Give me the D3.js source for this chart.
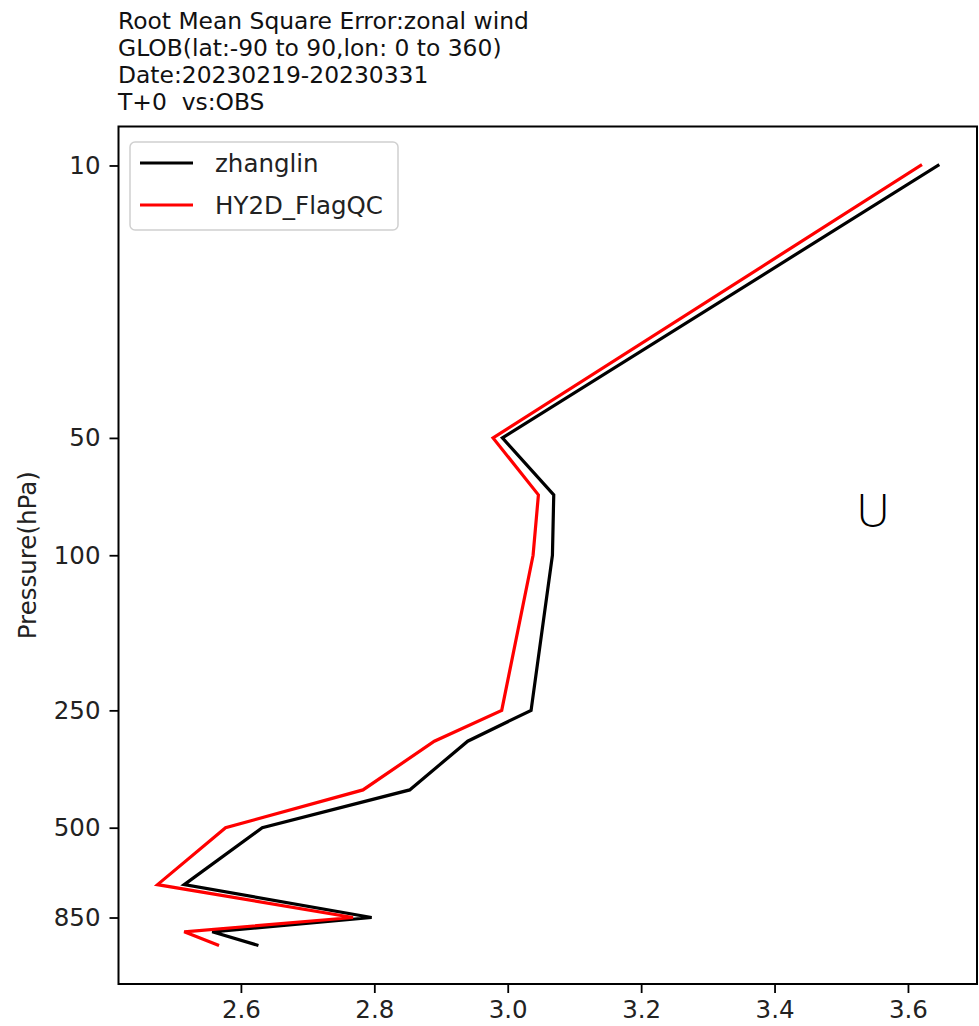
<!DOCTYPE html>
<html>
<head>
<meta charset="utf-8">
<script src="https://cdn.jsdelivr.net/npm/d3@7"></script>
<style>
  html, body { margin: 0; padding: 0; background: #fff; }
  svg { display: block; font-family: "DejaVu Sans", sans-serif; }
</style>
</head>
<body>
<svg id="chart" width="979" height="1026"></svg>
<script>
// Pressure levels (hPa) and RMSE of zonal wind for each experiment
const levels   = [10, 50, 70, 100, 250, 300, 400, 500, 700, 850, 925, 1000];
const zhanglin = [3.645, 2.992, 3.069, 3.067, 3.035, 2.940, 2.853, 2.632, 2.515, 2.796, 2.557, 2.624];
const hy2d     = [3.619, 2.978, 3.046, 3.038, 2.991, 2.890, 2.783, 2.577, 2.475, 2.768, 2.515, 2.565];

const seriesNames  = ["zhanglin", "HY2D_FlagQC"];
const seriesColors = ["#000000", "#ff0000"];

const yTickValues = [10, 50, 100, 250, 500, 850];
const xTickValues = [2.6, 2.8, 3.0, 3.2, 3.4, 3.6];

const titleLines = [
  "Root Mean Square Error:zonal wind",
  "GLOB(lat:-90 to 90,lon: 0 to 360)",
  "Date:20230219-20230331",
  "T+0  vs:OBS"
];

const svg = d3.select("#chart");
const plot = { left: 118.5, right: 977, top: 126.5, bottom: 984 };

// x: linear with 5% padding around the data
const allVals = zhanglin.concat(hy2d);
const [xmin, xmax] = d3.extent(allVals);
const xpad = (xmax - xmin) * 0.05;
const x = d3.scaleLinear()
  .domain([xmin - xpad, xmax + xpad])
  .range([plot.left, plot.right]);

// y: log pressure, increasing downward, 5% padding in log space
const lmin = Math.log10(d3.min(levels)), lmax = Math.log10(d3.max(levels));
const lpad = (lmax - lmin) * 0.05;
const y = d3.scaleLog()
  .domain([Math.pow(10, lmin - lpad), Math.pow(10, lmax + lpad)])
  .range([plot.top, plot.bottom]);

// Series lines
const series = [zhanglin, hy2d];
const line = d3.line()
  .x(d => x(d[0]))
  .y(d => y(d[1]));

svg.append("clipPath").attr("id", "plotclip")
  .append("rect")
  .attr("x", plot.left).attr("y", plot.top)
  .attr("width", plot.right - plot.left).attr("height", plot.bottom - plot.top);

const gLines = svg.append("g").attr("clip-path", "url(#plotclip)");
series.forEach((vals, i) => {
  gLines.append("path")
    .datum(vals.map((v, j) => [v, levels[j]]))
    .attr("d", line)
    .attr("fill", "none")
    .attr("stroke", seriesColors[i])
    .attr("stroke-width", 3.2)
    .attr("stroke-linejoin", "miter")
    .attr("stroke-linecap", "square");
});

// Axes
const xAxis = d3.axisBottom(x)
  .tickValues(xTickValues)
  .tickFormat(d3.format(".1f"))
  .tickSize(9).tickPadding(8);
const yAxis = d3.axisLeft(y)
  .tickValues(yTickValues)
  .tickFormat(d => String(d))
  .tickSize(9).tickPadding(9);

const gx = svg.append("g")
  .attr("transform", `translate(0,${plot.bottom})`)
  .call(xAxis);
const gy = svg.append("g")
  .attr("transform", `translate(${plot.left},0)`)
  .call(yAxis);

[gx, gy].forEach(g => {
  g.select(".domain").remove();
  g.selectAll(".tick line").attr("stroke", "#000").attr("stroke-width", 1.8);
  g.selectAll(".tick text")
    .attr("fill", "#222")
    .style("font-family", "DejaVu Sans")
    .style("font-size", "24.5px");
});

// Frame
svg.append("rect")
  .attr("x", plot.left).attr("y", plot.top)
  .attr("width", plot.right - plot.left).attr("height", plot.bottom - plot.top)
  .attr("fill", "none").attr("stroke", "#000").attr("stroke-width", 2);

// Y axis label
svg.append("text")
  .attr("transform", `translate(36,${(plot.top + plot.bottom) / 2}) rotate(-90)`)
  .attr("text-anchor", "middle")
  .attr("fill", "#222")
  .style("font-size", "24.5px")
  .text("Pressure(hPa)");

// Title block
svg.append("g").selectAll("text")
  .data(titleLines)
  .join("text")
  .attr("x", 118)
  .attr("y", (d, i) => 29 + i * 27)
  .attr("fill", "#111")
  .style("font-size", "23.4px")
  .style("white-space", "pre")
  .attr("xml:space", "preserve")
  .text(d => d);

// Variable tag
svg.append("text")
  .attr("x", 873).attr("y", 527)
  .attr("text-anchor", "middle")
  .attr("fill", "#000")
  .style("font-family", "Open Sans")
  .style("font-weight", 300)
  .style("font-size", "46px")
  .text("U");

// Legend
const legend = svg.append("g");
legend.append("rect")
  .attr("x", 130).attr("y", 142)
  .attr("width", 268).attr("height", 88)
  .attr("rx", 5)
  .attr("fill", "#fff").attr("fill-opacity", 0.8)
  .attr("stroke", "#d0d0d0").attr("stroke-width", 1.5);
seriesNames.forEach((name, i) => {
  const cy = 163 + i * 42;
  legend.append("line")
    .attr("x1", 140).attr("x2", 193)
    .attr("y1", cy).attr("y2", cy)
    .attr("stroke", seriesColors[i]).attr("stroke-width", 3.2);
  legend.append("text")
    .attr("x", 215).attr("y", cy + 9)
    .attr("fill", "#222")
    .style("font-size", "24.5px")
    .text(name);
});
</script>
</body>
</html>
